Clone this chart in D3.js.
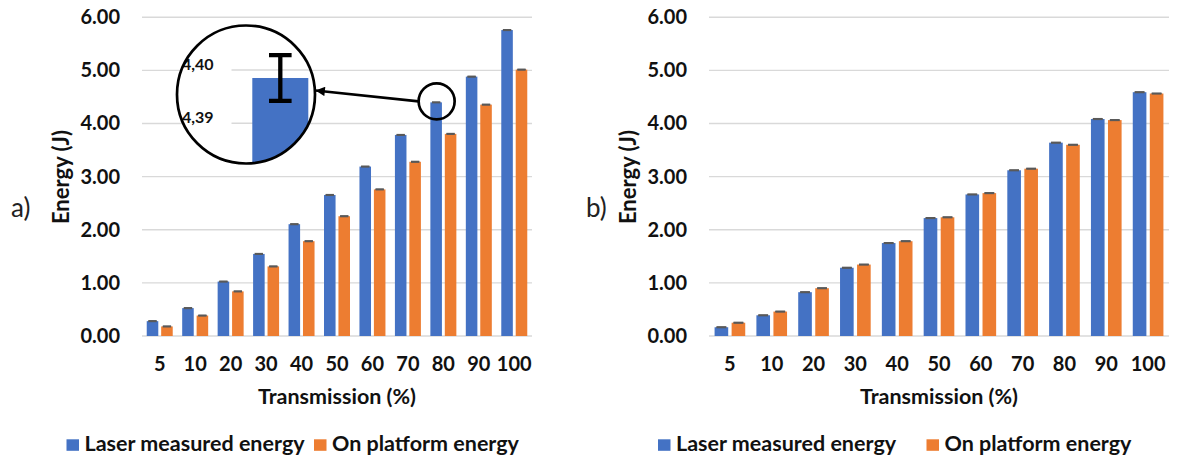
<!DOCTYPE html>
<html>
<head>
<meta charset="utf-8">
<script src="https://cdn.jsdelivr.net/npm/d3@7/dist/d3.min.js"></script>
<style>
  html, body { margin: 0; padding: 0; background: #fff; }
  svg { display: block; font-family: Lato, "Open Sans", sans-serif; }
</style>
</head>
<body>
<svg id="chart" width="1181" height="460"></svg>
<script>
// Transmission settings shared by both panels
const transmission = ["5", "10", "20", "30", "40", "50", "60", "70", "80", "90", "100"];
const seriesNames = ["Laser measured energy", "On platform energy"];
const yTicks = [0, 1, 2, 3, 4, 5, 6];

// Panel a)
const laserA    = [0.28, 0.525, 1.025, 1.545, 2.105, 2.655, 3.19, 3.785, 4.3985, 4.883, 5.76];
const platformA = [0.18, 0.385, 0.84, 1.31, 1.785, 2.255, 2.76, 3.28, 3.805, 4.356, 5.015];
const laserErrA    = [0.005, 0.005, 0.005, 0.005, 0.005, 0.005, 0.005, 0.005, 0.0043, 0.005, 0.005];
const platformErrA = [0.005, 0.005, 0.005, 0.005, 0.005, 0.005, 0.005, 0.005, 0.005, 0.005, 0.005];

// Panel b)
const laserB    = [0.165, 0.39, 0.825, 1.285, 1.75, 2.22, 2.665, 3.12, 3.64, 4.085, 4.59];
const platformB = [0.25, 0.46, 0.90, 1.345, 1.785, 2.235, 2.69, 3.15, 3.60, 4.065, 4.565];
const laserErrB    = [0.005, 0.005, 0.005, 0.005, 0.005, 0.005, 0.005, 0.005, 0.005, 0.005, 0.005];
const platformErrB = [0.005, 0.005, 0.005, 0.005, 0.005, 0.005, 0.005, 0.005, 0.005, 0.005, 0.005];

// Zoomed detail of the 80 % laser bar
const insetTicks = [4.39, 4.40];
const insetIndex = 8;

const colors = ["#4472C4", "#ED7D31"];
const textColor = "#111";
const numSize = 20;     // tick numbers
const wordSize = 21.5;  // titles and legend
const svg = d3.select("#chart");
const fmt = d3.format(".2f");

function drawPanel(cfg) {
  const g = svg.append("g");
  const x0 = d3.scaleBand().domain(transmission)
    .range([cfg.left, cfg.right]).paddingInner(0.267).paddingOuter(0.1335);
  const x1 = d3.scaleBand().domain(seriesNames)
    .range([0, x0.bandwidth()]).paddingInner(0.2);
  const y = d3.scaleLinear().domain([0, 6]).range([336, 17.3]);

  // gridlines
  g.append("g").selectAll("line").data(yTicks).join("line")
    .attr("x1", cfg.left).attr("x2", cfg.right)
    .attr("y1", d => y(d)).attr("y2", d => y(d))
    .attr("stroke", "#d9d9d9").attr("stroke-width", 1.4);

  // y tick labels
  const yAxis = d3.axisLeft(y).tickValues(yTicks).tickFormat(fmt).tickSize(0).tickPadding(0);
  const ya = g.append("g").attr("transform", `translate(${cfg.yLabelRight},0)`).call(yAxis);
  ya.select(".domain").remove();
  ya.selectAll("text").attr("font-size", numSize).attr("font-weight", 700)
    .attr("fill", textColor).attr("font-family", "Lato, sans-serif");

  // x tick labels
  const xAxis = d3.axisBottom(x0).tickSize(0).tickPadding(0);
  const xa = g.append("g").attr("transform", `translate(0,${y(0)})`).call(xAxis);
  xa.select(".domain").remove();
  xa.selectAll("text").attr("font-size", numSize).attr("font-weight", 700)
    .attr("fill", textColor).attr("font-family", "Lato, sans-serif")
    .attr("dy", null).attr("y", 30).attr("dominant-baseline", "middle");

  // bars
  const series = [cfg.laser, cfg.platform];
  const errs = [cfg.laserErr, cfg.platformErr];
  const rows = [];
  transmission.forEach((t, i) => {
    seriesNames.forEach((s, j) => rows.push({ t, s, j, v: series[j][i], e: errs[j][i] }));
  });
  const bars = g.append("g");
  bars.selectAll("rect").data(rows).join("rect")
    .attr("x", d => x0(d.t) + x1(d.s))
    .attr("width", x1.bandwidth())
    .attr("y", d => y(d.v))
    .attr("height", d => y(0) - y(d.v))
    .attr("fill", d => colors[d.j]);

  // error bars
  const eb = g.append("g").attr("stroke", "#595959").attr("stroke-width", 1.6);
  const cap = x1.bandwidth() * 0.36;
  rows.forEach(d => {
    const cx = x0(d.t) + x1(d.s) + x1.bandwidth() / 2;
    eb.append("line").attr("x1", cx).attr("x2", cx).attr("y1", y(d.v + d.e)).attr("y2", y(d.v - d.e));
    eb.append("line").attr("x1", cx - cap).attr("x2", cx + cap).attr("y1", y(d.v + d.e)).attr("y2", y(d.v + d.e));
    eb.append("line").attr("x1", cx - cap).attr("x2", cx + cap).attr("y1", y(d.v - d.e)).attr("y2", y(d.v - d.e));
  });

  // axis titles
  g.append("text").attr("transform", `translate(${cfg.yTitleX},177) rotate(-90)`)
    .attr("text-anchor", "middle").attr("dominant-baseline", "middle")
    .attr("font-size", 22).attr("font-weight", 700).attr("fill", textColor).text("Energy (J)");
  g.append("text").attr("x", (cfg.left + cfg.right) / 2).attr("y", 398)
    .attr("text-anchor", "middle").attr("dominant-baseline", "middle")
    .attr("font-size", wordSize).attr("font-weight", 700).attr("fill", textColor).text("Transmission (%)");

  // panel letter
  g.append("text").attr("x", cfg.letterX).attr("y", 210)
    .attr("dominant-baseline", "middle")
    .attr("font-size", 26).attr("font-weight", 400).attr("fill", "#222").text(cfg.letter);

  // legend
  const lg = g.append("g");
  seriesNames.forEach((s, j) => {
    lg.append("rect").attr("x", cfg.legendX[j]).attr("y", 439.3).attr("width", 12.5).attr("height", 11.5)
      .attr("fill", colors[j]);
    lg.append("text").attr("x", cfg.legendX[j] + 18).attr("y", 445)
      .attr("dominant-baseline", "middle")
      .attr("font-size", wordSize).attr("font-weight", 700).attr("fill", textColor).text(s);
  });

  return { x0, x1, y };
}

const pa = drawPanel({
  left: 142, right: 532, yLabelRight: 120, yTitleX: 63, letter: "a)", letterX: 11,
  laser: laserA, platform: platformA, laserErr: laserErrA, platformErr: platformErrA,
  legendX: [66.5, 314]
});
drawPanel({
  left: 709, right: 1169, yLabelRight: 687, yTitleX: 630, letter: "b)", letterX: 586,
  laser: laserB, platform: platformB, laserErr: laserErrB, platformErr: platformErrB,
  legendX: [658, 926.5]
});

// ---- magnified view of the 80 % laser bar ----
const inset = { cx: 246, cy: 94.5, r: 69 };
const yIn = d3.scaleLinear().domain(insetTicks).range([123.3, 70]);
const defs = svg.append("defs");
defs.append("clipPath").attr("id", "insetClip")
  .append("circle").attr("cx", inset.cx).attr("cy", inset.cy).attr("r", inset.r);

const ig = svg.append("g");
ig.append("circle").attr("cx", inset.cx).attr("cy", inset.cy).attr("r", inset.r).attr("fill", "#fff");
const inner = ig.append("g").attr("clip-path", "url(#insetClip)");
inner.selectAll("line.grid").data(insetTicks).join("line").attr("class", "grid")
  .attr("x1", 231.5).attr("x2", inset.cx + inset.r)
  .attr("y1", d => yIn(d)).attr("y2", d => yIn(d))
  .attr("stroke", "#d9d9d9").attr("stroke-width", 1.4);
const vIn = laserA[insetIndex], eIn = laserErrA[insetIndex];
inner.append("rect").attr("x", 252.3).attr("width", 56)
  .attr("y", yIn(vIn)).attr("height", inset.cy + inset.r - yIn(vIn))
  .attr("fill", colors[0]);
const ebIn = inner.append("g").attr("stroke", "#000").attr("stroke-width", 4.3);
ebIn.append("line").attr("x1", 280.3).attr("x2", 280.3).attr("y1", yIn(vIn + eIn)).attr("y2", yIn(vIn - eIn));
ebIn.append("line").attr("x1", 269).attr("x2", 291.6).attr("y1", yIn(vIn + eIn)).attr("y2", yIn(vIn + eIn));
ebIn.append("line").attr("x1", 269).attr("x2", 291.6).attr("y1", yIn(vIn - eIn)).attr("y2", yIn(vIn - eIn));
ig.selectAll("text.itick").data(insetTicks).join("text").attr("class", "itick")
  .attr("x", 213.5).attr("y", d => yIn(d) - 4)
  .attr("text-anchor", "end").attr("dominant-baseline", "middle")
  .attr("font-size", 16).attr("font-weight", 700).attr("fill", textColor)
  .text(d => d.toFixed(2).replace(".", ","));
ig.append("circle").attr("cx", inset.cx).attr("cy", inset.cy).attr("r", inset.r)
  .attr("fill", "none").attr("stroke", "#000").attr("stroke-width", 2.7);

// small ring around the original bar top and the pointer to the magnified view
const barCx = pa.x0(transmission[insetIndex]) + pa.x1(seriesNames[0]) + pa.x1.bandwidth() / 2;
const ring = { cx: barCx + 0.5, cy: pa.y(laserA[insetIndex]) - 1, r: 18 };
svg.append("circle").attr("cx", ring.cx).attr("cy", ring.cy).attr("r", ring.r)
  .attr("fill", "none").attr("stroke", "#000").attr("stroke-width", 2.7);
defs.append("marker").attr("id", "arrowHead").attr("viewBox", "0 0 10 10")
  .attr("refX", 10).attr("refY", 5).attr("markerWidth", 4.6).attr("markerHeight", 3.6)
  .attr("markerUnits", "strokeWidth").attr("orient", "auto")
  .append("path").attr("d", "M0,0 L10,5 L0,10 Z").attr("fill", "#000");
svg.append("line").attr("x1", ring.cx - ring.r).attr("y1", ring.cy)
  .attr("x2", 315.5).attr("y2", 90.5)
  .attr("stroke", "#000").attr("stroke-width", 2.6).attr("marker-end", "url(#arrowHead)");
</script>
</body>
</html>
